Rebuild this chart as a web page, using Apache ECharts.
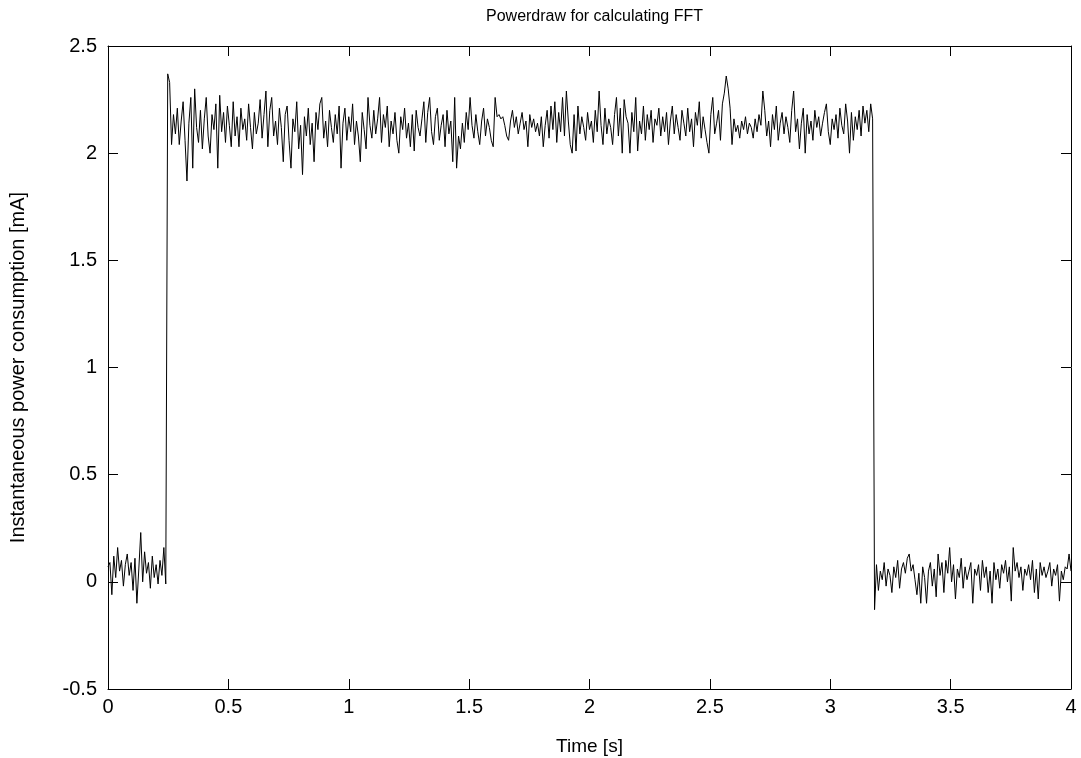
<!DOCTYPE html>
<html>
<head>
<meta charset="utf-8">
<script src="https://cdn.jsdelivr.net/npm/echarts@6/dist/echarts.min.js"></script>
<style>html,body{margin:0;padding:0;background:#fff}#c{width:1081px;height:758px}</style>
</head>
<body>
<div id="c"></div>
<script>
// sampling step of the recorded signal (s)
const sampleStep = 0.008;
// idle phase before FFT (t = 0 .. 0.240 s)
const idleBefore = [0.07,0.09,-0.06,0.12,0.02,0.16,0.05,0.10,-0.02,0.08,0.13,0.03,0.09,-0.04,0.11,-0.10,0.06,0.23,0.00,0.14,0.04,0.09,-0.03,0.12,0.02,0.08,-0.01,0.10,0.03,0.16,-0.01];
// FFT computation phase (t = 0.248 .. 3.176 s)
const fftPhase = [
2.37,2.33,2.04,2.18,2.09,2.21,2.04,2.15,2.24,2.06,
1.87,2.14,2.26,1.93,2.30,2.12,2.05,2.20,2.02,2.16,
2.26,2.08,2.00,2.18,2.11,2.23,1.93,2.27,2.10,2.19,
2.05,2.22,2.13,2.03,2.24,2.08,2.17,2.03,2.21,2.11,
2.16,2.06,2.23,2.12,2.02,2.19,2.09,2.14,2.25,2.07,
2.18,2.29,2.03,2.20,2.26,2.08,2.15,2.04,2.21,2.12,
1.96,2.18,2.22,2.06,1.93,2.16,2.10,2.24,2.02,2.13,
1.90,2.17,2.08,2.21,2.04,2.14,1.96,2.19,2.11,2.23,
2.26,2.07,2.15,2.03,2.20,2.12,2.05,2.18,2.09,2.22,
1.93,2.14,2.21,2.06,2.17,2.10,2.23,2.04,2.15,2.08,
1.96,2.19,2.11,2.02,2.26,2.13,2.07,2.20,2.09,2.16,
2.26,2.05,2.18,2.12,2.22,2.03,2.15,2.09,2.19,2.06,
2.00,2.17,2.11,2.21,2.07,2.14,2.03,2.18,2.01,2.20,
2.12,2.08,2.16,2.24,2.05,2.19,2.26,2.10,2.04,2.17,
2.21,2.06,2.13,2.18,2.03,2.20,2.09,2.15,1.96,2.26,
1.93,2.08,2.02,2.14,2.05,2.19,2.11,2.26,2.13,2.07,
2.18,2.10,2.04,2.15,2.21,2.08,2.16,2.12,2.06,2.03,
2.26,2.17,2.18,2.16,2.17,2.13,2.08,2.06,2.15,2.20,
2.12,2.17,2.09,2.14,2.19,2.11,2.15,2.03,2.18,2.12,
2.16,2.10,2.14,2.08,2.17,2.03,2.13,2.20,2.07,2.22,
2.11,2.24,2.05,2.19,2.10,2.26,2.08,2.29,2.15,2.04,
2.00,2.18,2.01,2.22,2.09,2.17,2.12,2.06,2.19,2.11,
2.15,2.05,2.20,2.10,2.29,2.13,2.04,2.21,2.09,2.16,
2.12,2.04,2.18,2.26,2.08,2.21,2.00,2.25,2.17,2.14,
2.00,2.19,2.10,2.26,2.01,2.15,2.09,2.22,2.06,2.18,
2.11,2.20,2.05,2.16,2.13,2.21,2.08,2.17,2.10,2.19,
2.04,2.15,2.22,2.09,2.18,2.12,2.06,2.20,2.14,2.08,
2.21,2.10,2.16,2.03,2.19,2.13,2.24,2.07,2.17,2.11,
2.05,2.00,2.18,2.26,2.09,2.14,2.20,2.06,2.23,2.28,
2.36,2.30,2.21,2.04,2.16,2.10,2.13,2.07,2.15,2.11,
2.17,2.09,2.14,2.12,2.07,2.16,2.10,2.18,2.13,2.29,
2.20,2.08,2.15,2.03,2.18,2.11,2.22,2.06,2.14,2.19,
2.09,2.17,2.12,2.05,2.20,2.29,2.10,2.16,2.02,2.14,
2.21,2.00,2.18,2.09,2.15,2.06,2.20,2.12,2.17,2.08,
2.14,2.19,2.23,2.10,2.04,2.16,2.11,2.18,2.07,2.21,
2.13,2.09,2.23,2.15,2.00,2.19,2.06,2.17,2.11,2.20,
2.08,2.22,2.14,2.20,2.10,2.23,2.16];
// idle phase after FFT (t = 3.184 .. 4.000 s)
const idleAfter = [
-0.13,0.08,-0.04,0.05,0.01,0.09,-0.02,0.06,0.03,-0.05,
0.07,0.02,0.10,-0.03,0.06,0.09,0.04,0.11,0.13,0.05,
0.08,0.01,-0.06,0.04,-0.10,0.07,0.02,-0.10,0.05,0.09,
-0.02,0.06,-0.07,0.13,0.03,0.09,-0.05,0.10,0.04,0.16,
0.00,0.08,-0.08,0.06,0.02,0.11,-0.03,0.07,0.01,0.05,
0.09,-0.10,0.06,0.03,0.08,-0.04,0.10,0.02,0.07,-0.05,
0.05,-0.10,0.09,0.01,0.06,-0.03,0.08,0.04,0.10,0.00,
0.07,-0.09,0.16,0.05,0.09,0.02,0.07,-0.04,0.06,0.03,
0.08,0.01,0.10,-0.05,0.06,-0.08,0.09,0.03,0.07,0.02,
0.05,0.09,-0.02,0.06,0.03,0.08,-0.09,0.05,0.01,0.07,
0.06,0.13,0.05];
const xTicks = [0,0.5,1,1.5,2,2.5,3,3.5,4];
const yTicks = [-0.5,0,0.5,1,1.5,2,2.5];

const values = idleBefore.concat(fftPhase, idleAfter);
const data = values.map((v, i) => [+(i * sampleStep).toFixed(3), v]);

const FONT = "'Liberation Sans', Arial, Helvetica, sans-serif";
const chart = echarts.init(document.getElementById('c'), null, {renderer: 'canvas'});
const tickStyle = {show: true, inside: true, length: 10, lineStyle: {color: '#000', width: 1}};
chart.setOption({
  animation: false,
  backgroundColor: '#fff',
  title: {
    text: 'Powerdraw for calculating FFT',
    left: 589.5, top: 4, textAlign: 'center',
    textStyle: {fontFamily: FONT, fontSize: 16, fontWeight: 'normal', color: '#000'}
  },
  grid: {left: 108, right: 10, top: 46, bottom: 69, show: false, containLabel: false, outerBoundsMode: 'none'},
  xAxis: [{
    type: 'value', min: xTicks[0], max: xTicks[xTicks.length - 1], interval: 0.5,
    name: 'Time [s]', nameLocation: 'middle', nameGap: 48,
    nameTextStyle: {fontFamily: FONT, fontSize: 19, color: '#000'},
    axisLine: {show: true, onZero: false, lineStyle: {color: '#000', width: 1}},
    axisTick: tickStyle,
    axisLabel: {fontFamily: FONT, fontSize: 20, color: '#000', margin: 8},
    splitLine: {show: false}
  }, {
    type: 'value', position: 'top', min: xTicks[0], max: xTicks[xTicks.length - 1], interval: 0.5,
    axisLine: {show: true, onZero: false, lineStyle: {color: '#000', width: 1}},
    axisTick: tickStyle, axisLabel: {show: false}, splitLine: {show: false}
  }],
  yAxis: [{
    type: 'value', min: yTicks[0], max: yTicks[yTicks.length - 1], interval: 0.5,
    name: 'Instantaneous power consumption [mA]', nameLocation: 'middle', nameGap: 80,
    nameTextStyle: {fontFamily: FONT, fontSize: 20, color: '#000'},
    axisLine: {show: true, onZero: false, lineStyle: {color: '#000', width: 1}},
    axisTick: tickStyle,
    axisLabel: {fontFamily: FONT, fontSize: 20, color: '#000', margin: 11},
    splitLine: {show: false}
  }, {
    type: 'value', position: 'right', min: yTicks[0], max: yTicks[yTicks.length - 1], interval: 0.5,
    axisLine: {show: true, onZero: false, lineStyle: {color: '#000', width: 1}},
    axisTick: tickStyle, axisLabel: {show: false}, splitLine: {show: false}
  }],
  series: [{
    type: 'line', data: data, xAxisIndex: 0, yAxisIndex: 0,
    showSymbol: false, symbol: 'none',
    lineStyle: {color: '#000', width: 1},
    silent: true
  }]
});
</script>
</body>
</html>
